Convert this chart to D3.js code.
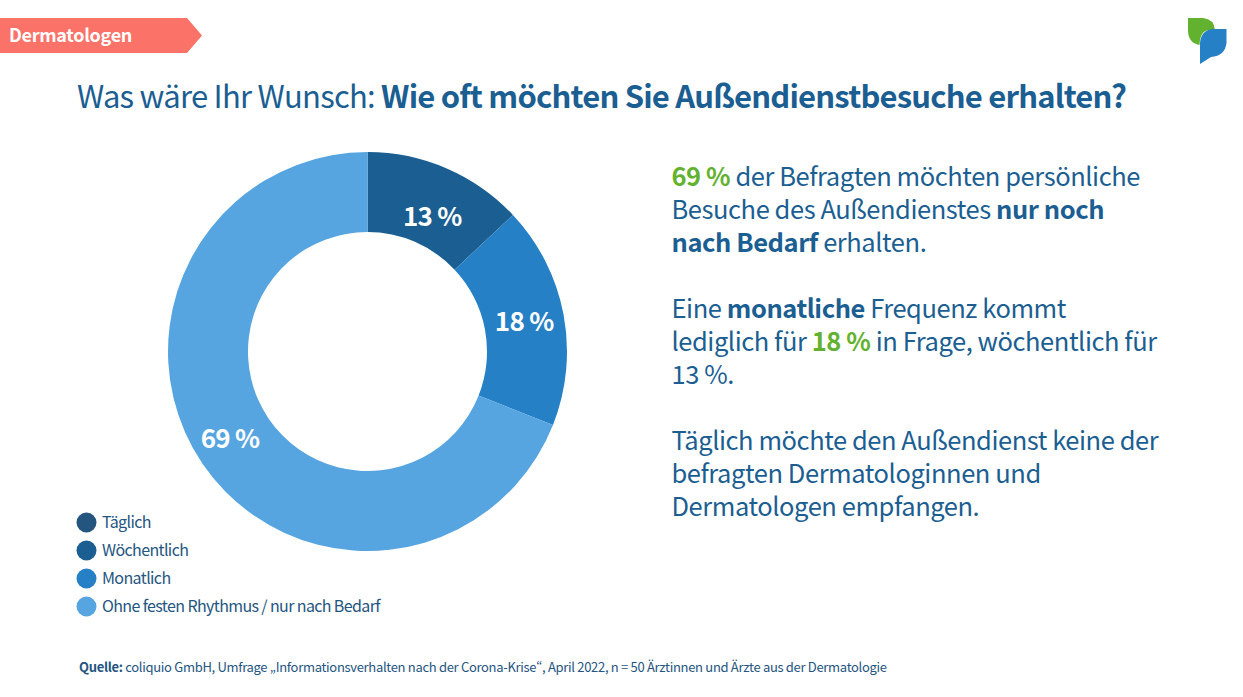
<!DOCTYPE html>
<html lang="de">
<head>
<meta charset="utf-8">
<script src="https://cdn.jsdelivr.net/npm/d3@7"></script>
<style>
html, body { margin: 0; padding: 0; background: #fff; }
svg { display: block; }
text { font-family: "Noto Sans CJK SC", "Noto Sans", sans-serif; font-feature-settings: "pwid"; }
</style>
</head>
<body>
<script>
var width = 1243;
var height = 697;

var categories = ['Täglich', 'Wöchentlich', 'Monatlich', 'Ohne festen Rhythmus / nur nach Bedarf'];
var values = [0, 13, 18, 69];
var colors = ['#24557f', '#1b5e92', '#2680c6', '#57a5e0'];

var badgeText = 'Dermatologen';
var titleParts = [['Was wäre Ihr Wunsch: ', false], ['Wie oft möchten Sie Außendienstbesuche erhalten?', true]];
var sourceParts = [['Quelle: ', true], ['coliquio GmbH, Umfrage „Informationsverhalten nach der Corona-Krise“, April 2022, n = 50 Ärztinnen und Ärzte aus der Dermatologie', false]];

// each line is a baseline and a list of [text, style]; n = normal, b = bold, g = green bold
var bodyLines = [
    [186, [['69 %', 'g'], [' der Befragten möchten persönliche', 'n']]],
    [219, [['Besuche des Außendienstes ', 'n'], ['nur noch', 'b']]],
    [252, [['nach Bedarf', 'b'], [' erhalten.', 'n']]],
    [318, [['Eine ', 'n'], ['monatliche', 'b'], [' Frequenz kommt', 'n']]],
    [351, [['lediglich für ', 'n'], ['18 %', 'g'], [' in Frage, wöchentlich für', 'n']]],
    [384, [['13 %.', 'n']]],
    [450, [['Täglich möchte den Außendienst keine der', 'n']]],
    [483, [['befragten Dermatologinnen und', 'n']]],
    [516, [['Dermatologen empfangen.', 'n']]]
];

// nudges for the value labels, they are not centred in the ring in the original
var labelNudge = [[0, 0], [1.5, 12], [0, 0.5], [-5.5, -2]];

var textBlue = '#1b5e92';
var green = '#63b22f';

var svg = d3.select('body')
            .append('svg')
            .attr('width', width)
            .attr('height', height);

// badge
var badgePath = d3.path();
badgePath.moveTo(0, 18);
badgePath.lineTo(187, 18);
badgePath.lineTo(202, 35.5);
badgePath.lineTo(187, 53);
badgePath.lineTo(0, 53);
badgePath.closePath();
svg.append('path').attr('d', badgePath.toString()).style('fill', '#fa7268');
svg.append('text')
    .attr('x', 9).attr('y', 35.5)
    .attr('dy', '0.35em')
    .style('font-size', '18px')
    .style('letter-spacing', '-0.3px')
    .style('font-weight', 700)
    .style('fill', 'white')
    .text(badgeText);

// logo
svg.append('path')
    .attr('d', 'M1188 18 H1203 Q1214 19 1215 30 H1210 Q1200 30 1199.500 45 Q1188 43 1188 30 Z')
    .style('fill', '#63b22f');
svg.append('path')
    .attr('d', 'M1226.500 29 V43 Q1225 56 1211 57 L1200 64 V43 Q1201 30 1213 29 Z')
    .style('fill', '#2680c6');

// title
var title = svg.append('text')
    .attr('x', 77).attr('y', 107.5)
    .style('font-size', '31px')
    .style('fill', textBlue);
title.selectAll('tspan')
    .data(titleParts)
    .enter().append('tspan')
    .style('font-weight', function(d) { return d[1] ? 700 : 400; })
    .style('letter-spacing', function(d) { return d[1] ? '-0.81px' : '-0.75px'; })
    .text(function(d) { return d[0]; });

// donut
var pie = d3.pie().sort(null).value(function(d) { return d; });
var arc = d3.arc().innerRadius(119.5).outerRadius(199.5);
var labelArc = d3.arc().innerRadius(159.5).outerRadius(159.5);
var donut = svg.append('g').attr('transform', 'translate(367.5,351.5)');
var arcs = pie(values);

donut.selectAll('path')
    .data(arcs)
    .enter().append('path')
    .attr('d', arc)
    .style('fill', function(d, i) { return colors[i]; });

donut.selectAll('text')
    .data(arcs.filter(function(d) { return d.value > 0; }))
    .enter().append('text')
    .attr('transform', function(d) {
        var c = labelArc.centroid(d);
        var n = labelNudge[d.index];
        return 'translate(' + (c[0] + n[0]) + ',' + (c[1] + n[1]) + ')';
    })
    .attr('text-anchor', 'middle')
    .attr('dy', '0.35em')
    .style('font-size', '26px')
    .style('letter-spacing', '-0.75px')
    .style('font-weight', 700)
    .style('fill', 'white')
    .text(function(d) { return d.value + ' %'; });

// legend
var legendY = d3.scalePoint().domain(categories).range([522.500, 606.500]);
var legend = svg.selectAll('.legend')
    .data(categories)
    .enter().append('g')
    .attr('class', 'legend')
    .attr('transform', function(d) { return 'translate(0,' + legendY(d) + ')'; });
legend.append('circle')
    .attr('cx', 86.500).attr('r', 10)
    .style('fill', function(d, i) { return colors[i]; });
legend.append('text')
    .attr('x', 102)
    .attr('dy', '0.35em')
    .style('font-size', '16px')
    .style('letter-spacing', '-0.62px')
    .style('fill', '#24557f')
    .text(function(d) { return d; });

// right hand text
var lines = svg.selectAll('.body-line')
    .data(bodyLines)
    .enter().append('text')
    .attr('class', 'body-line')
    .attr('x', 671.5)
    .attr('y', function(d) { return d[0]; })
    .style('font-size', '25.5px')
    .style('letter-spacing', '-0.44px');
lines.selectAll('tspan')
    .data(function(d) { return d[1]; })
    .enter().append('tspan')
    .style('font-weight', function(d) { return d[1] == 'n' ? 400 : 700; })
    .style('fill', function(d) { return d[1] == 'g' ? green : textBlue; })
    .text(function(d) { return d[0]; });

// source
var source = svg.append('text')
    .attr('x', 79).attr('y', 672)
    .style('font-size', '13px')
    .style('letter-spacing', '-0.31px')
    .style('fill', '#24557f');
source.selectAll('tspan')
    .data(sourceParts)
    .enter().append('tspan')
    .style('font-weight', function(d) { return d[1] ? 700 : 400; })
    .text(function(d) { return d[0]; });
</script>
</body>
</html>
